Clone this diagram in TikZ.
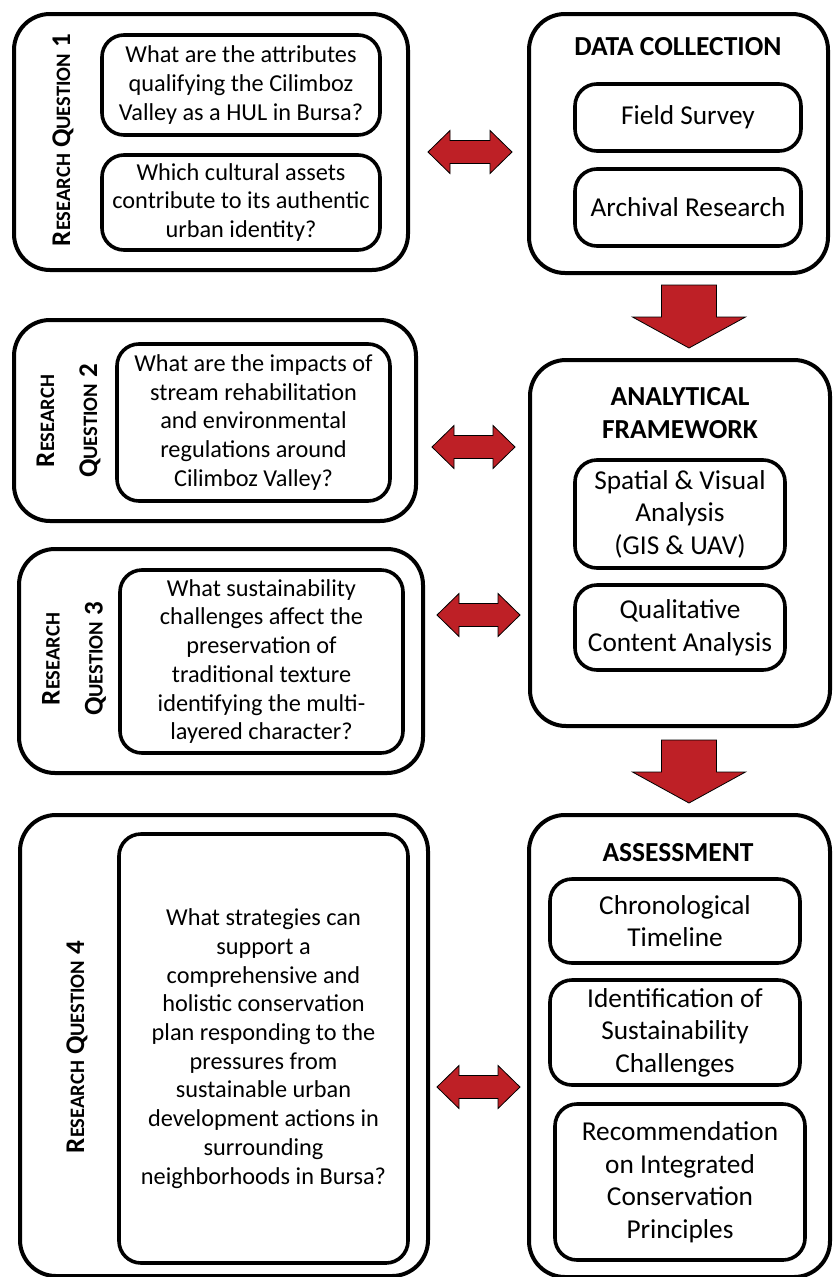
\documentclass[tikz,border=0pt]{standalone}
\usepackage{fontspec}
\setmainfont{Carlito}
\definecolor{arrowred}{RGB}{190,32,38}
\newcommand\scl[2]{#1{\fontsize{20.5}{22}\selectfont #2}}
\newcommand\dblarr[3]{\draw[blockarrow] (#1,#3) -- ({#1+22},{#3-21.5}) -- ({#1+22},{#3-11.5}) -- ({#2-22},{#3-11.5}) -- ({#2-22},{#3-21.5}) -- (#2,#3) -- ({#2-22},{#3+21.5}) -- ({#2-22},{#3+11.5}) -- ({#1+22},{#3+11.5}) -- ({#1+22},{#3+21.5}) -- cycle;}
\newcommand\dnarr[4]{\draw[blockarrow] ({#1-27.5},#2) -- ({#1+27.5},#2) -- ({#1+27.5},#3) -- ({#1+56.5},#3) -- (#1,#4) -- ({#1-56.5},#3) -- ({#1-27.5},#3) -- cycle;}
\tikzset{
  outerbox/.style={draw, line width=4pt, rounded corners=36pt, rectangle, inner sep=0pt},
  innerbox/.style={draw, line width=3.6pt, rounded corners=22pt, rectangle, inner sep=0pt, align=center},
  ltext/.style={font=\fontsize{24.3}{28.7}\selectfont},
  rtext/.style={font=\fontsize{27.3}{32.5}\selectfont},
  titletext/.style={font=\bfseries\fontsize{27.5}{33}\selectfont, align=center, inner sep=0pt},
  rqlabel/.style={font=\bfseries\fontsize{27}{43}\selectfont, align=center, rotate=90, inner sep=0pt},
  blockarrow/.style={fill=arrowred, draw=black, line width=0.8pt, line join=miter},
}
\begin{document}
\begin{tikzpicture}[x=1pt, y=-1pt]
\useasboundingbox (0,0) rectangle (835,1277);
\fill[white] (0,0) rectangle (835,1277);

% ---------- RQ1 ----------
\node[outerbox, minimum width=394, minimum height=256] (rq1) at (211,142) {};
\node[rqlabel] (rq1l) at (63,140) {\scl{R}{ESEARCH} \scl{Q}{UESTION} 1};
\node[innerbox, ltext, minimum width=278, minimum height=100] (rq1a) at (241,85)
  {What are the attributes\\qualifying the Cilimboz\\Valley as a HUL in Bursa?};
\node[innerbox, ltext, minimum width=278, minimum height=95] (rq1b) at (241,202.5)
  {Which cultural assets\\contribute to its authentic\\urban identity?};

% ---------- Data collection ----------
\node[outerbox, minimum width=299, minimum height=259] (dc) at (678.5,143.5) {};
\node[titletext] (dct) at (678,47) {DATA COLLECTION};
\node[innerbox, rtext, minimum width=226, minimum height=67] (fs) at (688,117.5) {Field Survey};
\node[innerbox, rtext, minimum width=226, minimum height=77] (ar) at (688,207.5) {Archival Research};

% ---------- RQ2 ----------
\node[outerbox, minimum width=402, minimum height=201] (rq2) at (215,420.5) {};
\node[rqlabel] (rq2l) at (68.5,421) {\scl{R}{ESEARCH}\\\scl{Q}{UESTION} 2};
\node[innerbox, ltext, minimum width=273, minimum height=157] (rq2a) at (253.5,422.5)
  {What are the impacts of\\stream rehabilitation\\and environmental\\regulations around\\Cilimboz Valley?};

% ---------- RQ3 ----------
\node[outerbox, minimum width=404, minimum height=224] (rq3) at (221,661) {};
\node[rqlabel] (rq3l) at (74,659) {\scl{R}{ESEARCH}\\\scl{Q}{UESTION} 3};
\node[innerbox, ltext, minimum width=283, minimum height=183] (rq3a) at (261.5,661.5)
  {What sustainability\\challenges affect the\\preservation of\\traditional texture\\identifying the multi-\\layered character?};

% ---------- Analytical framework ----------
\node[outerbox, minimum width=300, minimum height=366] (af) at (680,543) {};
\node[titletext] (aft) at (680,413.5) {ANALYTICAL\\FRAMEWORK};
\node[innerbox, rtext, minimum width=210, minimum height=108] (sv) at (680,514)
  {Spatial \& Visual\\Analysis\\(GIS \& UAV)};
\node[innerbox, rtext, minimum width=210, minimum height=85] (qc) at (680,627.5)
  {Qualitative\\Content Analysis};

% ---------- RQ4 ----------
\node[outerbox, minimum width=408, minimum height=461] (rq4) at (224,1045.5) {};
\node[rqlabel] (rq4l) at (77,1047) {\scl{R}{ESEARCH} \scl{Q}{UESTION} 4};
\node[innerbox, ltext, minimum width=289, minimum height=429] (rq4a) at (263.5,1048.5)
  {What strategies can\\support a\\comprehensive and\\holistic conservation\\plan responding to the\\pressures from\\sustainable urban\\development actions in\\surrounding\\neighborhoods in Bursa?};

% ---------- Assessment ----------
\node[outerbox, minimum width=301, minimum height=462] (as) at (679.5,1046) {};
\node[titletext] (ast) at (678,853) {ASSESSMENT};
\node[innerbox, rtext, minimum width=250, minimum height=84] (ct) at (675,921)
  {Chronological\\Timeline};
\node[innerbox, rtext, minimum width=250, minimum height=105] (is) at (675,1032.5)
  {Identification of\\Sustainability\\Challenges};
\node[innerbox, rtext, minimum width=250, minimum height=156] (rc) at (680,1182)
  {Recommendation\\on Integrated\\Conservation\\Principles};

% ---------- Arrows ----------
\dblarr{428}{512}{152}
\dblarr{432}{515}{447}
\dblarr{437}{520}{615}
\dblarr{437}{520}{1087}
\dnarr{689}{285}{317}{348}
\dnarr{689}{740}{772}{803}
\end{tikzpicture}
\end{document}
